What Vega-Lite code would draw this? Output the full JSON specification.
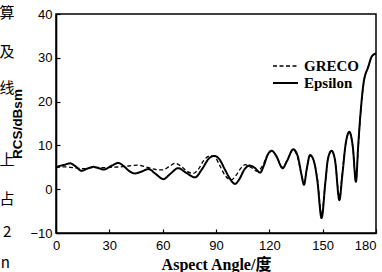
{
  "$schema": "https://vega.github.io/schema/vega-lite/v6.json",
  "width": 320,
  "height": 219,
  "autosize": {"type": "none"},
  "padding": {"left": 56, "top": 14, "right": 6, "bottom": 39},
  "background": "white",
  "config": {
    "view": {"stroke": "black", "strokeWidth": 1.5},
    "axis": {
      "domainColor": "black",
      "domainWidth": 1.6,
      "tickColor": "black",
      "tickSize": -4,
      "tickWidth": 1.2,
      "grid": false,
      "labelFont": "Liberation Sans",
      "labelFontSize": 13,
      "labelColor": "black",
      "titleColor": "black"
    }
  },
  "datasets": {
    "curves": [
      {"model": "GRECO", "angle": 0, "rcs": 5.0},
      {"model": "GRECO", "angle": 5, "rcs": 5.1},
      {"model": "GRECO", "angle": 10, "rcs": 4.9},
      {"model": "GRECO", "angle": 16, "rcs": 4.7},
      {"model": "GRECO", "angle": 22, "rcs": 5.0},
      {"model": "GRECO", "angle": 27, "rcs": 4.9},
      {"model": "GRECO", "angle": 32, "rcs": 5.0},
      {"model": "GRECO", "angle": 36, "rcs": 5.1},
      {"model": "GRECO", "angle": 41, "rcs": 5.3},
      {"model": "GRECO", "angle": 46, "rcs": 5.5},
      {"model": "GRECO", "angle": 52, "rcs": 4.9},
      {"model": "GRECO", "angle": 56, "rcs": 4.5},
      {"model": "GRECO", "angle": 60, "rcs": 4.4},
      {"model": "GRECO", "angle": 64, "rcs": 5.3},
      {"model": "GRECO", "angle": 67, "rcs": 5.9},
      {"model": "GRECO", "angle": 71, "rcs": 5.0},
      {"model": "GRECO", "angle": 74, "rcs": 4.0},
      {"model": "GRECO", "angle": 77, "rcs": 3.6},
      {"model": "GRECO", "angle": 80, "rcs": 4.5},
      {"model": "GRECO", "angle": 83, "rcs": 6.5},
      {"model": "GRECO", "angle": 86.5, "rcs": 7.6},
      {"model": "GRECO", "angle": 89, "rcs": 7.5},
      {"model": "GRECO", "angle": 92, "rcs": 5.5},
      {"model": "GRECO", "angle": 95, "rcs": 3.2},
      {"model": "GRECO", "angle": 98.5, "rcs": 2.1},
      {"model": "GRECO", "angle": 101, "rcs": 3.0},
      {"model": "GRECO", "angle": 104, "rcs": 4.8},
      {"model": "GRECO", "angle": 106.5, "rcs": 5.6},
      {"model": "GRECO", "angle": 110, "rcs": 4.9},
      {"model": "GRECO", "angle": 113, "rcs": 4.1},
      {"model": "GRECO", "angle": 116, "rcs": 5.2},
      {"model": "GRECO", "angle": 119, "rcs": 7.8},
      {"model": "GRECO", "angle": 121.5, "rcs": 8.7},
      {"model": "GRECO", "angle": 124, "rcs": 7.6},
      {"model": "GRECO", "angle": 127, "rcs": 5.0},
      {"model": "GRECO", "angle": 130, "rcs": 6.5},
      {"model": "GRECO", "angle": 133, "rcs": 9.0},
      {"model": "GRECO", "angle": 135.5, "rcs": 7.8},
      {"model": "GRECO", "angle": 138, "rcs": 3.5},
      {"model": "GRECO", "angle": 139.5, "rcs": 1.5},
      {"model": "GRECO", "angle": 141, "rcs": 4.5},
      {"model": "GRECO", "angle": 143, "rcs": 7.6},
      {"model": "GRECO", "angle": 145, "rcs": 6.5},
      {"model": "GRECO", "angle": 147, "rcs": 2.5},
      {"model": "GRECO", "angle": 149.4, "rcs": -5.8},
      {"model": "GRECO", "angle": 151.5, "rcs": 1.5},
      {"model": "GRECO", "angle": 153, "rcs": 6.8},
      {"model": "GRECO", "angle": 155, "rcs": 8.7},
      {"model": "GRECO", "angle": 157, "rcs": 6.5},
      {"model": "GRECO", "angle": 159.4, "rcs": -1.8},
      {"model": "GRECO", "angle": 161, "rcs": 3.5},
      {"model": "GRECO", "angle": 163, "rcs": 10.5},
      {"model": "GRECO", "angle": 165, "rcs": 13.0},
      {"model": "GRECO", "angle": 167, "rcs": 9.5},
      {"model": "GRECO", "angle": 168.7, "rcs": 2.0},
      {"model": "GRECO", "angle": 170, "rcs": 9.5},
      {"model": "GRECO", "angle": 171, "rcs": 15.5},
      {"model": "GRECO", "angle": 173, "rcs": 24.0},
      {"model": "GRECO", "angle": 175.7, "rcs": 28.0},
      {"model": "GRECO", "angle": 177.6, "rcs": 30.2},
      {"model": "GRECO", "angle": 180, "rcs": 31.0},
      {"model": "Epsilon", "angle": 0, "rcs": 5.0},
      {"model": "Epsilon", "angle": 2, "rcs": 5.3},
      {"model": "Epsilon", "angle": 5, "rcs": 5.6},
      {"model": "Epsilon", "angle": 8, "rcs": 5.9},
      {"model": "Epsilon", "angle": 11, "rcs": 5.2},
      {"model": "Epsilon", "angle": 14.4, "rcs": 4.2},
      {"model": "Epsilon", "angle": 17, "rcs": 4.6},
      {"model": "Epsilon", "angle": 21, "rcs": 5.1},
      {"model": "Epsilon", "angle": 24, "rcs": 4.8},
      {"model": "Epsilon", "angle": 27, "rcs": 4.5},
      {"model": "Epsilon", "angle": 31, "rcs": 5.3},
      {"model": "Epsilon", "angle": 35, "rcs": 6.0},
      {"model": "Epsilon", "angle": 38, "rcs": 5.3},
      {"model": "Epsilon", "angle": 41, "rcs": 4.2},
      {"model": "Epsilon", "angle": 44.4, "rcs": 3.6},
      {"model": "Epsilon", "angle": 48, "rcs": 4.0},
      {"model": "Epsilon", "angle": 52, "rcs": 4.6},
      {"model": "Epsilon", "angle": 56, "rcs": 3.5},
      {"model": "Epsilon", "angle": 60.4, "rcs": 2.3},
      {"model": "Epsilon", "angle": 64, "rcs": 3.4},
      {"model": "Epsilon", "angle": 68.8, "rcs": 4.8},
      {"model": "Epsilon", "angle": 73, "rcs": 3.8},
      {"model": "Epsilon", "angle": 78.2, "rcs": 2.7},
      {"model": "Epsilon", "angle": 82, "rcs": 4.5},
      {"model": "Epsilon", "angle": 86, "rcs": 7.0},
      {"model": "Epsilon", "angle": 89, "rcs": 7.6},
      {"model": "Epsilon", "angle": 92, "rcs": 6.8},
      {"model": "Epsilon", "angle": 95, "rcs": 4.5},
      {"model": "Epsilon", "angle": 98, "rcs": 2.3},
      {"model": "Epsilon", "angle": 100.7, "rcs": 1.2},
      {"model": "Epsilon", "angle": 103, "rcs": 2.2},
      {"model": "Epsilon", "angle": 106, "rcs": 4.5},
      {"model": "Epsilon", "angle": 109, "rcs": 5.4},
      {"model": "Epsilon", "angle": 112, "rcs": 4.8},
      {"model": "Epsilon", "angle": 114.8, "rcs": 3.8},
      {"model": "Epsilon", "angle": 117, "rcs": 5.5},
      {"model": "Epsilon", "angle": 119, "rcs": 7.8},
      {"model": "Epsilon", "angle": 121.3, "rcs": 8.8},
      {"model": "Epsilon", "angle": 124, "rcs": 7.5},
      {"model": "Epsilon", "angle": 127.5, "rcs": 4.8},
      {"model": "Epsilon", "angle": 130, "rcs": 6.5},
      {"model": "Epsilon", "angle": 133.5, "rcs": 9.1},
      {"model": "Epsilon", "angle": 136, "rcs": 7.5},
      {"model": "Epsilon", "angle": 138, "rcs": 3.5},
      {"model": "Epsilon", "angle": 139.5, "rcs": 1.0},
      {"model": "Epsilon", "angle": 141, "rcs": 4.5},
      {"model": "Epsilon", "angle": 142.9, "rcs": 7.8},
      {"model": "Epsilon", "angle": 145, "rcs": 6.5},
      {"model": "Epsilon", "angle": 147, "rcs": 2.0},
      {"model": "Epsilon", "angle": 149.4, "rcs": -6.6},
      {"model": "Epsilon", "angle": 151.5, "rcs": 1.5},
      {"model": "Epsilon", "angle": 153, "rcs": 7.0},
      {"model": "Epsilon", "angle": 155, "rcs": 8.8},
      {"model": "Epsilon", "angle": 157, "rcs": 6.5},
      {"model": "Epsilon", "angle": 159.4, "rcs": -2.5},
      {"model": "Epsilon", "angle": 161, "rcs": 3.0},
      {"model": "Epsilon", "angle": 163, "rcs": 10.5},
      {"model": "Epsilon", "angle": 165, "rcs": 13.1},
      {"model": "Epsilon", "angle": 167, "rcs": 9.5},
      {"model": "Epsilon", "angle": 168.7, "rcs": 1.7},
      {"model": "Epsilon", "angle": 170, "rcs": 10.0},
      {"model": "Epsilon", "angle": 171, "rcs": 15.8},
      {"model": "Epsilon", "angle": 173, "rcs": 24.2},
      {"model": "Epsilon", "angle": 175.7, "rcs": 28.0},
      {"model": "Epsilon", "angle": 177.6, "rcs": 30.3},
      {"model": "Epsilon", "angle": 180, "rcs": 31.0}
    ],
    "margin": [
      {"label": "算", "angle": -27.5, "rcs": 40.2},
      {"label": "及", "angle": -27.5, "rcs": 31.3},
      {"label": "线", "angle": -27.5, "rcs": 23.1},
      {"label": "上", "angle": -27.5, "rcs": 6.7},
      {"label": "占", "angle": -27.5, "rcs": -2.2},
      {"label": "2", "angle": -27.5, "rcs": -9.8},
      {"label": "n", "angle": -28.5, "rcs": -16.8}
    ]
  },
  "layer": [
    {
      "data": {"name": "curves"},
      "mark": {"type": "line", "color": "black", "interpolate": "monotone"},
      "encoding": {
        "x": {
          "field": "angle",
          "type": "quantitative",
          "scale": {"domain": [0, 180], "nice": false, "zero": false},
          "axis": {
            "values": [0, 30, 60, 90, 120, 150, 180],
            "title": "Aspect Angle/度",
            "titleFont": "Liberation Serif, Noto Sans CJK SC",
            "titleFontWeight": "bold",
            "titleFontSize": 16,
            "titlePadding": 4,
            "labelPadding": 10,
            "labelAlign": {"condition": {"test": "datum.value == 180", "value": "right"}, "value": "center"}
          }
        },
        "y": {
          "field": "rcs",
          "type": "quantitative",
          "scale": {"domain": [-10, 40], "nice": false, "zero": false},
          "axis": {
            "values": [-10, 0, 10, 20, 30, 40],
            "title": "RCS/dBsm",
            "titleFont": "Liberation Sans",
            "titleFontWeight": "bold",
            "titleFontSize": 13.5,
            "titlePadding": 5,
            "labelPadding": 8
          }
        },
        "strokeDash": {
          "field": "model",
          "type": "nominal",
          "scale": {"domain": ["GRECO", "Epsilon"], "range": [[4, 2.5], [1, 0]]},
          "legend": {
            "title": null,
            "orient": "none",
            "legendX": 216,
            "legendY": 44.5,
            "padding": 0,
            "symbolType": "stroke",
            "symbolSize": 625,
            "symbolStrokeColor": "black",
            "symbolStrokeWidth": 1.5,
            "labelFont": "Liberation Serif",
            "labelFontWeight": "bold",
            "labelFontSize": 15,
            "labelColor": "black",
            "labelOffset": 5,
            "clipHeight": 15,
            "rowPadding": 1
          }
        },
        "strokeWidth": {
          "field": "model",
          "type": "nominal",
          "scale": {"domain": ["GRECO", "Epsilon"], "range": [1.3, 2]},
          "legend": null
        }
      }
    },
    {
      "data": {"name": "margin"},
      "mark": {"type": "text", "font": "Noto Sans CJK SC", "fontSize": 15, "color": "black", "align": "center", "baseline": "middle"},
      "encoding": {
        "x": {"field": "angle", "type": "quantitative"},
        "y": {"field": "rcs", "type": "quantitative"},
        "text": {"field": "label"}
      }
    }
  ]
}
